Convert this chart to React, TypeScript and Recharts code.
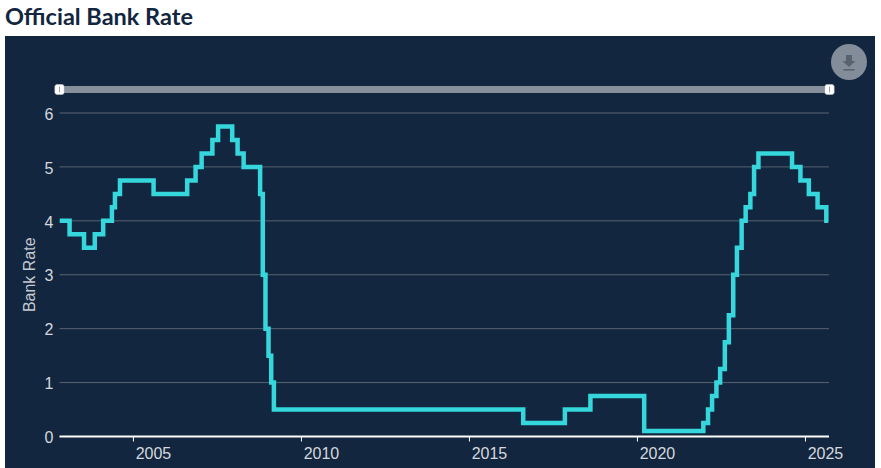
import React from "react";
import { LineChart, Line, XAxis, YAxis, CartesianGrid, Brush } from "recharts";

const dates = [
  2002.8, 2003.1, 2003.53, 2003.85, 2004.1, 2004.36, 2004.45, 2004.6, 2005.6,
  2006.6, 2006.85, 2007.03, 2007.35, 2007.52, 2007.94, 2008.1, 2008.28, 2008.77,
  2008.85, 2008.93, 2009.02, 2009.1, 2009.18, 2016.6, 2017.84, 2018.6, 2020.2,
  2021.96, 2022.1, 2022.22, 2022.35, 2022.46, 2022.6, 2022.72, 2022.85, 2022.96,
  2023.1, 2023.22, 2023.36, 2023.47, 2023.6, 2024.6, 2024.85, 2025.1, 2025.36,
  2025.62, 2025.68,
];
const rates = [
  4, 3.75, 3.5, 3.75, 4, 4.25, 4.5, 4.75, 4.5, 4.75, 5, 5.25, 5.5, 5.75, 5.5,
  5.25, 5, 4.5, 3, 2, 1.5, 1, 0.5, 0.25, 0.5, 0.75, 0.1, 0.25, 0.5, 0.75, 1,
  1.25, 1.75, 2.25, 3, 3.5, 4, 4.25, 4.5, 5, 5.25, 5, 4.75, 4.5, 4.25, 4, 4,
];
const yearTicks = [2005, 2010, 2015, 2020, 2025];
const rateTicks = [0, 1, 2, 3, 4, 5, 6];

const chartData = dates.map((date, i) => ({ date, rate: rates[i] }));

const Traveller = (props: any) => (
  <g>
    <rect
      x={props.x}
      y={props.y - 2}
      width={9}
      height={10}
      rx={2}
      fill="#ffffff"
      stroke="#c8ccd2"
      strokeWidth={0.5}
    />
    <line
      x1={props.x + 4.5}
      x2={props.x + 4.5}
      y1={props.y}
      y2={props.y + 6}
      stroke="#9aa1aa"
      strokeWidth={1}
    />
  </g>
);

const App = () => {
  return (
    <div
      style={{
        position: "absolute",
        left: 0,
        top: 0,
        width: 881,
        height: 468,
        background: "#ffffff",
        overflow: "hidden",
      }}
    >
      <div
        style={{
          position: "absolute",
          left: 5,
          top: 2,
          fontFamily: "Lato",
          fontWeight: 700,
          fontSize: 23.5,
          lineHeight: "28px",
          color: "#12263f",
        }}
      >
        Official Bank Rate
      </div>
      <div
        style={{
          position: "absolute",
          left: 5,
          top: 36,
          width: 870,
          height: 432,
          background: "#12263f",
        }}
      />
      <div style={{ position: "absolute", left: 0, top: 0 }}>
        <LineChart
          width={881}
          height={468}
          data={chartData}
          margin={{ top: 113, right: 52, bottom: 1.5, left: 0 }}
        >
          <CartesianGrid vertical={false} stroke="#59636f" strokeWidth={1} />
          <XAxis
            dataKey="date"
            type="number"
            domain={[2002.8, 2025.7]}
            ticks={yearTicks}
            allowDataOverflow
            height={24}
            stroke="#ffffff"
            axisLine={{ stroke: "#ffffff", strokeWidth: 2 }}
            tickLine={{ stroke: "#ffffff" }}
            tickSize={5}
            tick={{ fill: "#d5d8dc", fontSize: 16, fontFamily: "Liberation Sans", dx: 20, dy: 4 }}
          />
          <YAxis
            domain={[0, 6]}
            ticks={rateTicks}
            width={59.5}
            axisLine={false}
            tickLine={false}
            tick={{ fill: "#d5d8dc", fontSize: 16, fontFamily: "Liberation Sans", dx: 2, dy: 1 }}
            label={{
              value: "Bank Rate",
              angle: -90,
              position: "insideLeft",
              offset: 29,
              fill: "#c4c9cf",
              fontSize: 16,
              fontFamily: "Liberation Sans",
              textAnchor: "middle",
            }}
          />
          <Line
            type="stepAfter"
            dataKey="rate"
            stroke="#35d6dc"
            strokeWidth={4.5}
            dot={false}
            isAnimationActive={false}
          />
          <Brush
            dataKey="date"
            x={55}
            y={86.5}
            width={779}
            height={6}
            travellerWidth={9}
            fill="#868f9b"
            stroke="#868f9b"
            traveller={<Traveller />}
            tickFormatter={() => ""}
          />
        </LineChart>
      </div>
      <div
        style={{
          position: "absolute",
          left: 831,
          top: 44,
          width: 36,
          height: 36,
          borderRadius: "50%",
          background: "#838d99",
        }}
      >
        <svg width={36} height={36} viewBox="0 0 36 36">
          <path d="M15 11h6v6h3.5L18 23l-6.5-6H15z" fill="#56626f" />
          <rect x={12.5} y={25} width={11} height={1.6} fill="#56626f" />
        </svg>
      </div>
    </div>
  );
};

export default App;
